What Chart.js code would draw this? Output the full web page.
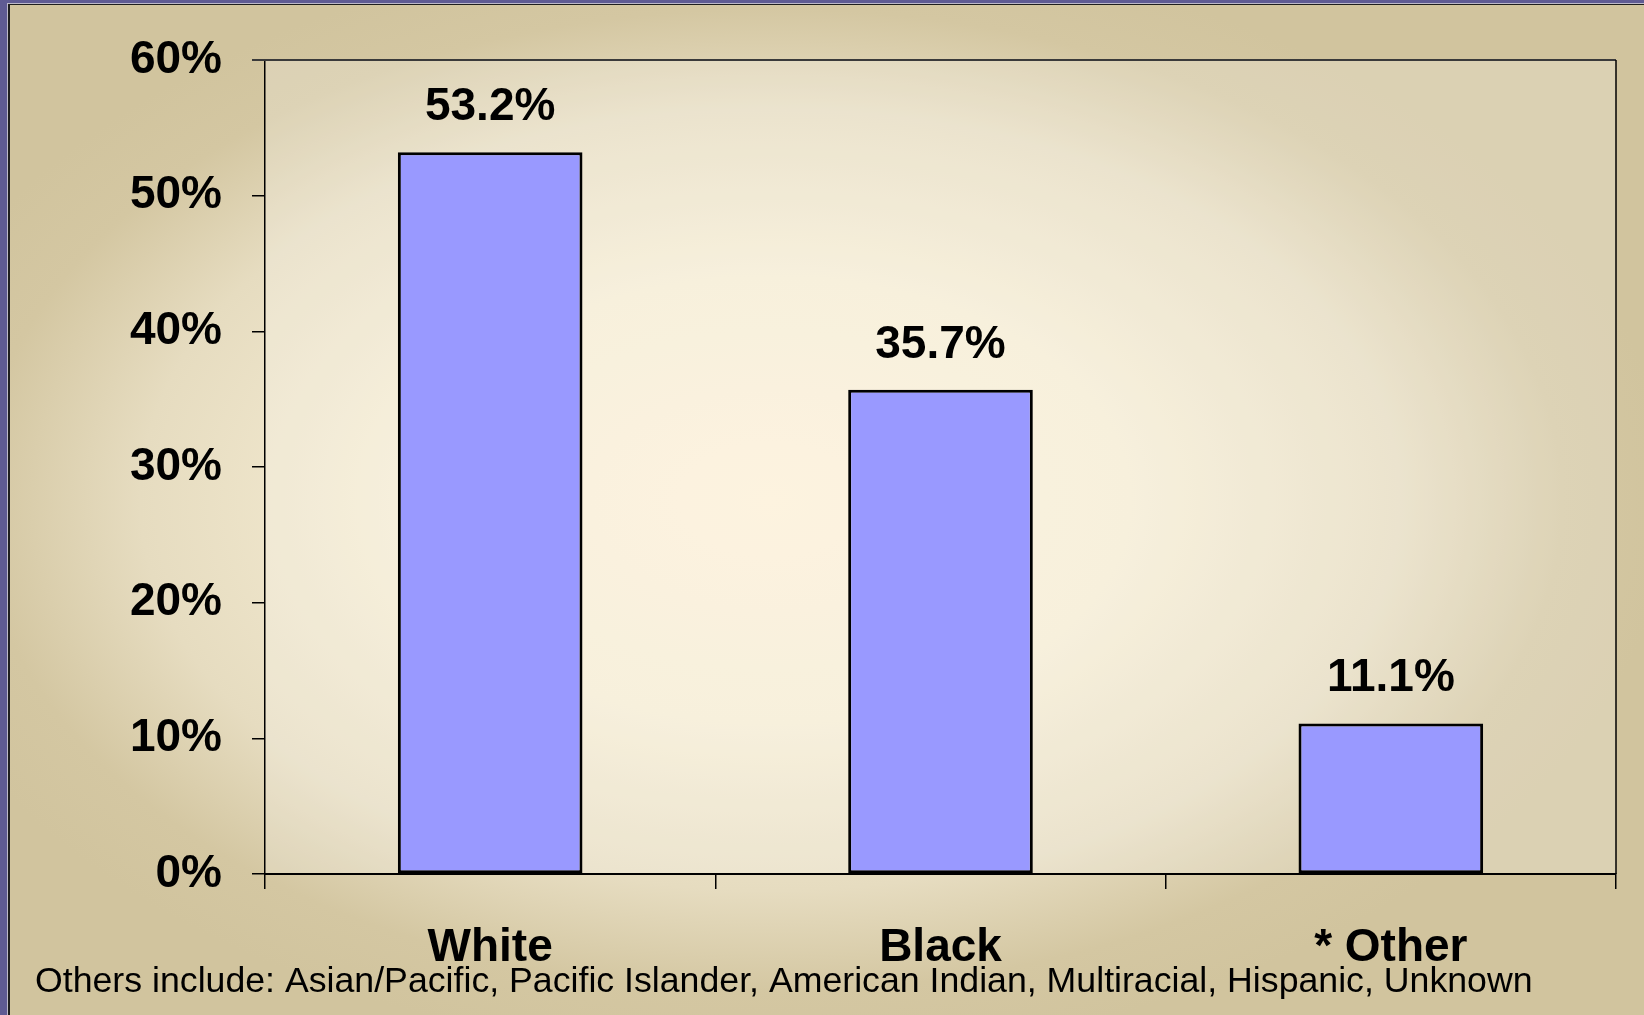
<!DOCTYPE html>
<html>
<head>
<meta charset="utf-8">
<script src="https://cdn.jsdelivr.net/npm/chart.js@4.4.1/dist/chart.umd.min.js"></script>
<style>
  html, body { margin: 0; padding: 0; background: #5f5b93; overflow: hidden; }
  canvas { display: block; }
</style>
</head>
<body>
<canvas id="raceChart" width="1644" height="1015"></canvas>
<script>
// share of cases by race
const categories = ['White', 'Black', '* Other'];
const shares = [53.2, 35.7, 11.1];
const axisMax = 60;
const axisStep = 10;
const footnote = 'Others include: Asian/Pacific, Pacific Islander, American Indian, Multiracial, Hispanic, Unknown';

const fontFamily = '"Liberation Sans", Arial, sans-serif';

// slide background: purple edge on top/left, beige radial wash, lighter plot area
const slideBackground = {
  id: 'slideBackground',
  beforeDraw(chart) {
    const ctx = chart.ctx;
    const w = chart.width, h = chart.height;
    ctx.save();
    ctx.fillStyle = '#5f5b93';
    ctx.fillRect(0, 0, w, h);
    ctx.fillStyle = '#bdb9c9';
    ctx.fillRect(7, 3, w, h);
    ctx.fillStyle = '#1f1f1f';
    ctx.fillRect(8, 4, w, h);

    ctx.save();
    ctx.beginPath();
    ctx.rect(10, 5, w, h);
    ctx.clip();
    ctx.translate(770, 500);
    ctx.scale(1, 0.62);
    const g = ctx.createRadialGradient(0, 0, 0, 0, 0, 900);
    g.addColorStop(0, '#fdf0d7');
    g.addColorStop(0.4, '#f5ecd3');
    g.addColorStop(0.7, '#e6dcc0');
    g.addColorStop(0.88, '#d4c7a2');
    g.addColorStop(1, '#d1c49e');
    ctx.fillStyle = g;
    ctx.fillRect(-1000, -1800, 2800, 3600);
    ctx.restore();

    const a = chart.chartArea;
    ctx.fillStyle = 'rgba(255, 255, 255, 0.22)';
    ctx.fillRect(a.left, a.top, a.right - a.left, a.bottom - a.top);
    ctx.restore();
  }
};

// percent labels above bars, frame on top/right of plot, footnote
const barExtras = {
  id: 'barExtras',
  afterDraw(chart) {
    const ctx = chart.ctx;
    const a = chart.chartArea;
    ctx.save();

    ctx.strokeStyle = '#3a3a3a';
    ctx.lineWidth = 2;
    ctx.beginPath();
    ctx.moveTo(a.left - 13, a.top);
    ctx.lineTo(a.right, a.top);
    ctx.stroke();
    ctx.strokeStyle = '#000';
    ctx.lineWidth = 1.5;
    ctx.beginPath();
    ctx.moveTo(a.right, a.top);
    ctx.lineTo(a.right, a.bottom);
    ctx.stroke();

    const meta = chart.getDatasetMeta(0);
    ctx.font = 'bold 46px ' + fontFamily;
    ctx.fillStyle = '#000';
    ctx.textAlign = 'center';
    ctx.textBaseline = 'alphabetic';
    meta.data.forEach((bar, i) => {
      ctx.fillText(shares[i].toFixed(1) + '%', bar.x, bar.y - 32);
    });

    ctx.font = '35.7px ' + fontFamily;
    ctx.textAlign = 'left';
    ctx.fillText(footnote, 35, 992);
    ctx.restore();
  }
};

const tickFont = { family: fontFamily, size: 46, weight: 'bold', lineHeight: 1.2 };

new Chart(document.getElementById('raceChart'), {
  type: 'bar',
  data: {
    labels: categories,
    datasets: [{
      data: shares,
      backgroundColor: '#9999ff',
      borderColor: '#000',
      borderWidth: 3,
      borderSkipped: false,
      categoryPercentage: 1,
      barPercentage: 0.41
    }]
  },
  options: {
    responsive: false,
    devicePixelRatio: 1,
    animation: false,
    layout: { padding: { top: 60, right: 28, bottom: 0, left: 0 } },
    plugins: {
      legend: { display: false },
      tooltip: { enabled: false }
    },
    scales: {
      x: {
        grid: { drawOnChartArea: false, tickLength: 15, color: '#000', lineWidth: 1.5, offset: true },
        border: { color: '#000', width: 2 },
        ticks: { color: '#000', font: tickFont, padding: 32, maxRotation: 0, autoSkip: false },
        afterFit(scale) { scale.height = 141; }
      },
      y: {
        min: 0,
        max: axisMax,
        grid: { drawOnChartArea: false, tickLength: 13, color: '#000', lineWidth: 1.5 },
        border: { color: '#000', width: 1.5 },
        ticks: {
          stepSize: axisStep,
          color: '#000',
          font: tickFont,
          padding: 30,
          callback: v => v + '%'
        },
        afterFit(scale) { scale.width = 265; }
      }
    }
  },
  plugins: [slideBackground, barExtras]
});
</script>
</body>
</html>
